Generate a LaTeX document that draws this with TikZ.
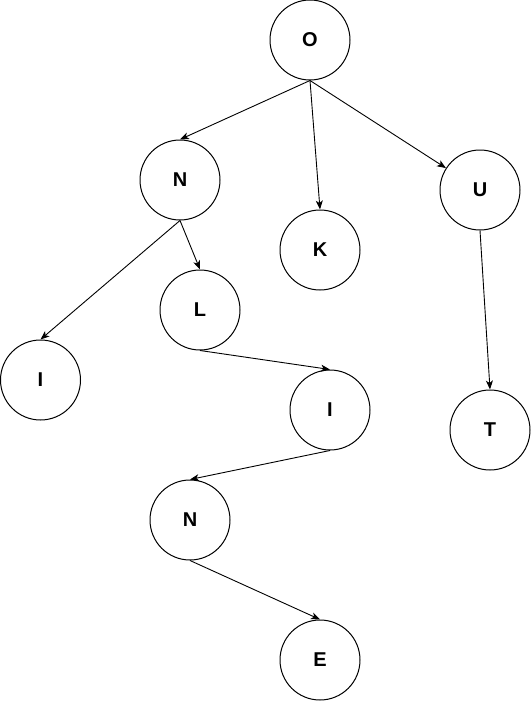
\documentclass[tikz,border=0pt]{standalone}
\usepackage{fontspec}
\setmainfont{Liberation Sans}
\usetikzlibrary{arrows.meta}
\begin{document}
\begin{tikzpicture}[x=1pt,y=-1pt,
  tnode/.style={circle,draw=black,line width=1pt,minimum size=80pt,inner sep=0pt,font=\fontsize{20}{22}\selectfont\bfseries},
  edge/.style={draw=black,line width=0.9pt,-{Stealth[length=9pt,width=7pt,inset=2.5pt]}}]
\useasboundingbox (0,0) rectangle (531,701);
\node[tnode] (O) at (310,40) {O};
\node[tnode] (N) at (180,180) {N};
\node[tnode] (K) at (320,250) {K};
\node[tnode] (U) at (480,190) {U};
\node[tnode] (I1) at (40.5,380) {I};
\node[tnode] (L) at (200,310) {L};
\node[tnode] (I2) at (330,410) {I};
\node[tnode] (T) at (490,430) {T};
\node[tnode] (N2) at (190,520) {N};
\node[tnode] (E) at (320,660) {E};
\draw[edge] (O.south) -- (N.north);
\draw[edge] (O.south) -- (K.north);
\draw[edge] (O.south) -- (U);
\draw[edge] (N.south) -- (I1.north);
\draw[edge] (N.south) -- (L.north);
\draw[edge] (L.south) -- (I2.north);
\draw[edge] (I2.south) -- (N2.north);
\draw[edge] (N2.south) -- (E.north);
\draw[edge] (U.south) -- (T.north);
\end{tikzpicture}
\end{document}
